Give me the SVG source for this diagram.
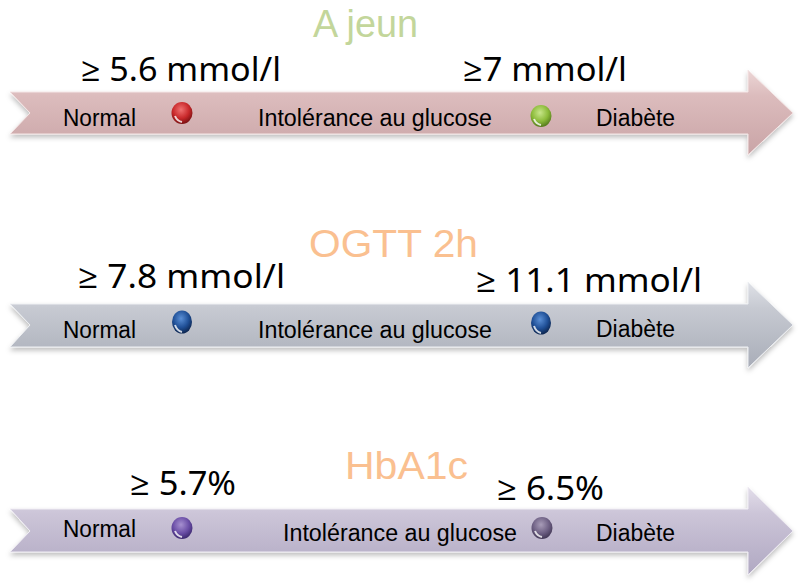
<svg xmlns="http://www.w3.org/2000/svg" width="800" height="586" viewBox="0 0 800 586">
<defs>
<style>
.title{font-family:"Liberation Sans",Arial,sans-serif;font-size:38px;text-anchor:start}
.big{font-family:"Noto Sans","Open Sans",sans-serif;font-size:33px;fill:#000}
.lbl{font-family:"Liberation Sans",Arial,sans-serif;font-size:23px;fill:#000}
</style>
<filter id="sh" x="-5%" y="-20%" width="110%" height="150%">
<feDropShadow dx="0" dy="3" stdDeviation="2.5" flood-color="#000" flood-opacity="0.25"/>
</filter>
<linearGradient id="gPink" x1="0" y1="0" x2="0" y2="1">
<stop offset="0" stop-color="#ecd6d6"/><stop offset="0.3" stop-color="#dcbcbd"/><stop offset="1" stop-color="#c9a4a6"/>
</linearGradient>
<linearGradient id="gGrey" x1="0" y1="0" x2="0" y2="1">
<stop offset="0" stop-color="#dfe1e7"/><stop offset="0.3" stop-color="#c7cad2"/><stop offset="1" stop-color="#a9adb8"/>
</linearGradient>
<linearGradient id="gLav" x1="0" y1="0" x2="0" y2="1">
<stop offset="0" stop-color="#e3deea"/><stop offset="0.3" stop-color="#ccc5d8"/><stop offset="1" stop-color="#b0a8c2"/>
</linearGradient>
<radialGradient id="bRed" cx="0.45" cy="0.35" r="0.65">
<stop offset="0" stop-color="#f07070"/><stop offset="0.6" stop-color="#c8282a"/><stop offset="1" stop-color="#7a1012"/>
</radialGradient>
<radialGradient id="bGreen" cx="0.45" cy="0.35" r="0.65">
<stop offset="0" stop-color="#c8e68a"/><stop offset="0.6" stop-color="#8cbb3a"/><stop offset="1" stop-color="#557a1c"/>
</radialGradient>
<radialGradient id="bBlue" cx="0.45" cy="0.35" r="0.65">
<stop offset="0" stop-color="#5a8fd6"/><stop offset="0.6" stop-color="#1f4f96"/><stop offset="1" stop-color="#0d2650"/>
</radialGradient>
<radialGradient id="bPurple" cx="0.45" cy="0.35" r="0.65">
<stop offset="0" stop-color="#a690d0"/><stop offset="0.6" stop-color="#6a4ea6"/><stop offset="1" stop-color="#3c2870"/>
</radialGradient>
<radialGradient id="bGrayP" cx="0.45" cy="0.35" r="0.65">
<stop offset="0" stop-color="#a89cb8"/><stop offset="0.6" stop-color="#6e6084"/><stop offset="1" stop-color="#433856"/>
</radialGradient>
</defs>

<g id="connectors">
<path id="arrow1" d="M10,92 L748,92 L748,70 L793,113 L748,155 L748,134 L10,134 L30,113 Z" fill="url(#gPink)" stroke="#f4e6e6" stroke-width="1" filter="url(#sh)"/>
<path id="arrow2" d="M10,304 L748,304 L748,282 L793,325 L748,368 L748,347 L10,347 L30,325 Z" fill="url(#gGrey)" stroke="#eef0f3" stroke-width="1" filter="url(#sh)"/>
<path id="arrow3" d="M10,509 L748,509 L748,487 L793,531 L748,575 L748,552 L10,552 L30,531 Z" fill="url(#gLav)" stroke="#f0edf4" stroke-width="1" filter="url(#sh)"/>
</g>

<g id="section1">
<text class="title" x="313" y="37" fill="#c3d69b" textLength="105" lengthAdjust="spacingAndGlyphs">A jeun</text>
<text class="big" x="81" y="81" textLength="200" lengthAdjust="spacingAndGlyphs">≥ 5.6 mmol/l</text>
<text class="big" x="463" y="81" textLength="164" lengthAdjust="spacingAndGlyphs">≥7 mmol/l</text>
<text class="lbl" x="63" y="126" textLength="73" lengthAdjust="spacingAndGlyphs">Normal</text>
<text class="lbl" x="258" y="126" textLength="234" lengthAdjust="spacingAndGlyphs">Intolérance au glucose</text>
<text class="lbl" x="596" y="126" textLength="79" lengthAdjust="spacingAndGlyphs">Diabète</text>
<g id="ball1a"><ellipse cx="182" cy="113" rx="10.5" ry="11" fill="url(#bRed)"/><path d="M175,116 Q177,121 182,122" stroke="#fff" stroke-width="2" fill="none" opacity="0.8"/></g>
<g id="ball1b"><ellipse cx="541" cy="116" rx="10.5" ry="11" fill="url(#bGreen)"/><path d="M534,119 Q536,124 541,125" stroke="#fff" stroke-width="2" fill="none" opacity="0.8"/></g>
</g>

<g id="section2">
<text class="title" x="309" y="257" fill="#fac090" textLength="169" lengthAdjust="spacingAndGlyphs">OGTT 2h</text>
<text class="big" x="78" y="288" textLength="207" lengthAdjust="spacingAndGlyphs">≥ 7.8 mmol/l</text>
<text class="big" x="476" y="292" textLength="226" lengthAdjust="spacingAndGlyphs">≥ 11.1 mmol/l</text>
<text class="lbl" x="63" y="338" textLength="73" lengthAdjust="spacingAndGlyphs">Normal</text>
<text class="lbl" x="258" y="338" textLength="234" lengthAdjust="spacingAndGlyphs">Intolérance au glucose</text>
<text class="lbl" x="596" y="337" textLength="79" lengthAdjust="spacingAndGlyphs">Diabète</text>
<g id="ball2a"><ellipse cx="182" cy="322" rx="10" ry="11.5" fill="url(#bBlue)"/><path d="M175,325 Q177,331 182,332" stroke="#fff" stroke-width="2" fill="none" opacity="0.8"/></g>
<g id="ball2b"><ellipse cx="541" cy="323" rx="10" ry="11.5" fill="url(#bBlue)"/><path d="M534,326 Q536,332 541,333" stroke="#fff" stroke-width="2" fill="none" opacity="0.8"/></g>
</g>

<g id="section3">
<text class="title" x="345" y="479" fill="#fac090" textLength="123" lengthAdjust="spacingAndGlyphs">HbA1c</text>
<text class="big" x="130" y="495" textLength="106" lengthAdjust="spacingAndGlyphs">≥ 5.7%</text>
<text class="big" x="497" y="500" textLength="107" lengthAdjust="spacingAndGlyphs">≥ 6.5%</text>
<text class="lbl" x="63" y="537" textLength="73" lengthAdjust="spacingAndGlyphs">Normal</text>
<text class="lbl" x="283" y="541" textLength="234" lengthAdjust="spacingAndGlyphs">Intolérance au glucose</text>
<text class="lbl" x="596" y="541" textLength="79" lengthAdjust="spacingAndGlyphs">Diabète</text>
<g id="ball3a"><ellipse cx="182" cy="528" rx="10.5" ry="11" fill="url(#bPurple)"/><path d="M175,531 Q177,536 182,537" stroke="#fff" stroke-width="2" fill="none" opacity="0.8"/></g>
<g id="ball3b"><ellipse cx="542" cy="528" rx="10.5" ry="11" fill="url(#bGrayP)"/><path d="M535,531 Q537,536 542,537" stroke="#fff" stroke-width="2" fill="none" opacity="0.8"/></g>
</g>
</svg>
